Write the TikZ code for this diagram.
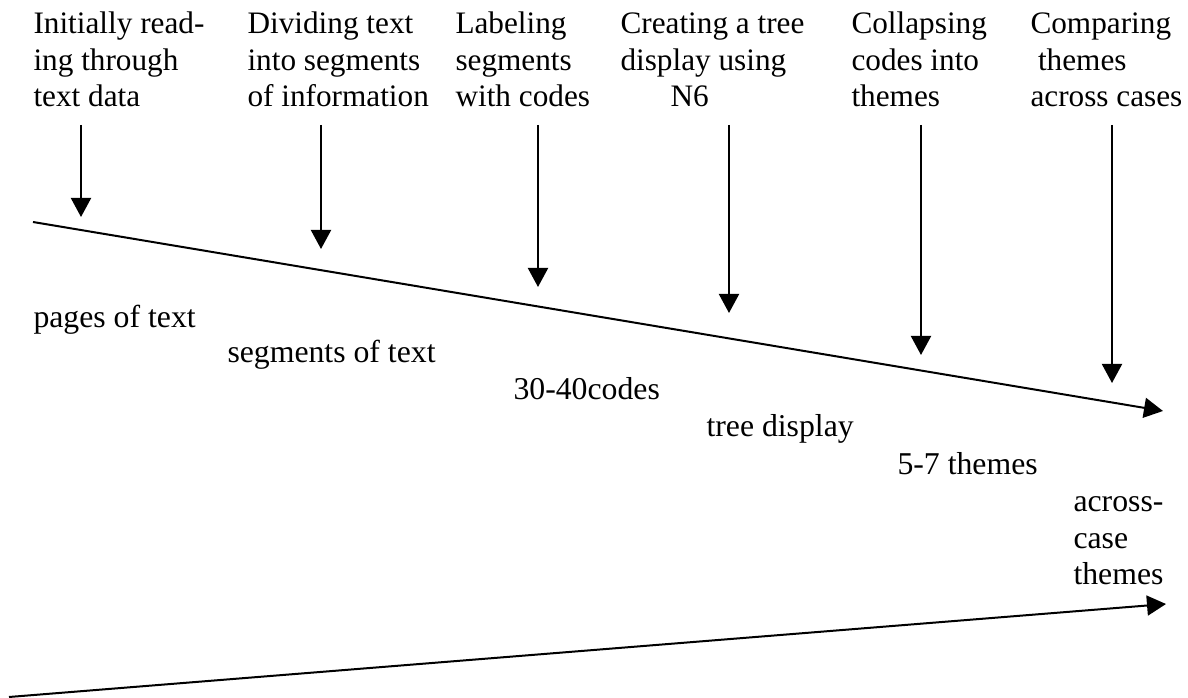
\documentclass[tikz,border=0pt]{standalone}
\usepackage{fontspec}
\setmainfont{Liberation Serif}
\usetikzlibrary{arrows.meta}

\tikzset{
  stage/.style={anchor=base west, inner sep=0pt, align=left, font=\fontsize{12.5}{14.7}\selectfont},
  result/.style={anchor=base west, inner sep=0pt, align=left, font=\fontsize{12.7}{14.6}\selectfont},
  flow/.style={-{Triangle[length=7.6pt,width=8pt]}, line width=0.8pt},
}

\begin{document}
\begin{tikzpicture}[x=0.4pt,y=-0.4pt]
    \useasboundingbox (0,0) rectangle (1188,698);

    % steps of the analysis (placed by the baseline of the last line)
    \node[stage] (s1) at (33,107) {Initially read-\\ing through\\text data};
    \node[stage] (s2) at (247,107) {Dividing text\\into segments\\of information};
    \node[stage] (s3) at (455,107) {Labeling\\segments\\with codes};
    \node[stage] (s4) at (620,107) {Creating a tree\\display using\\\hspace*{20pt}N6};
    \node[stage] (s5) at (851,107) {Collapsing\\codes into\\themes};
    \node[stage] (s6) at (1030,107) {Comparing\\\hspace*{3pt}themes\\across cases};

    % what each step gives
    \node[result] (r1) at (33,328) {pages of text};
    \node[result] (r2) at (227,363) {segments of text};
    \node[result] (r3) at (513,400) {30-40codes};
    \node[result] (r4) at (706,437) {tree display};
    \node[result] (r5) at (897,475) {5-7 themes};
    \node[result] (r6) at (1073,585) {across-\\case\\themes};

    \coordinate (t1) at (81,125);   \coordinate (h1) at (81,217);
    \coordinate (t2) at (321,125);  \coordinate (h2) at (321,249);
    \coordinate (t3) at (538,125);  \coordinate (h3) at (538,287);
    \coordinate (t4) at (729,125);  \coordinate (h4) at (729,313);
    \coordinate (t5) at (921,125);  \coordinate (h5) at (921,355);
    \coordinate (t6) at (1112,125); \coordinate (h6) at (1112,383);

    \draw[flow] (t1) -- (h1);
    \draw[flow] (t2) -- (h2);
    \draw[flow] (t3) -- (h3);
    \draw[flow] (t4) -- (h4);
    \draw[flow] (t5) -- (h5);
    \draw[flow] (t6) -- (h6);

    % the two long lines
    \coordinate (m0) at (33,222);  \coordinate (m1) at (1163,411);
    \coordinate (n0) at (9,697);   \coordinate (n1) at (1166,604);
    \draw[flow] (m0) -- (m1);
    \draw[flow] (n0) -- (n1);
  \end{tikzpicture}
\end{document}
